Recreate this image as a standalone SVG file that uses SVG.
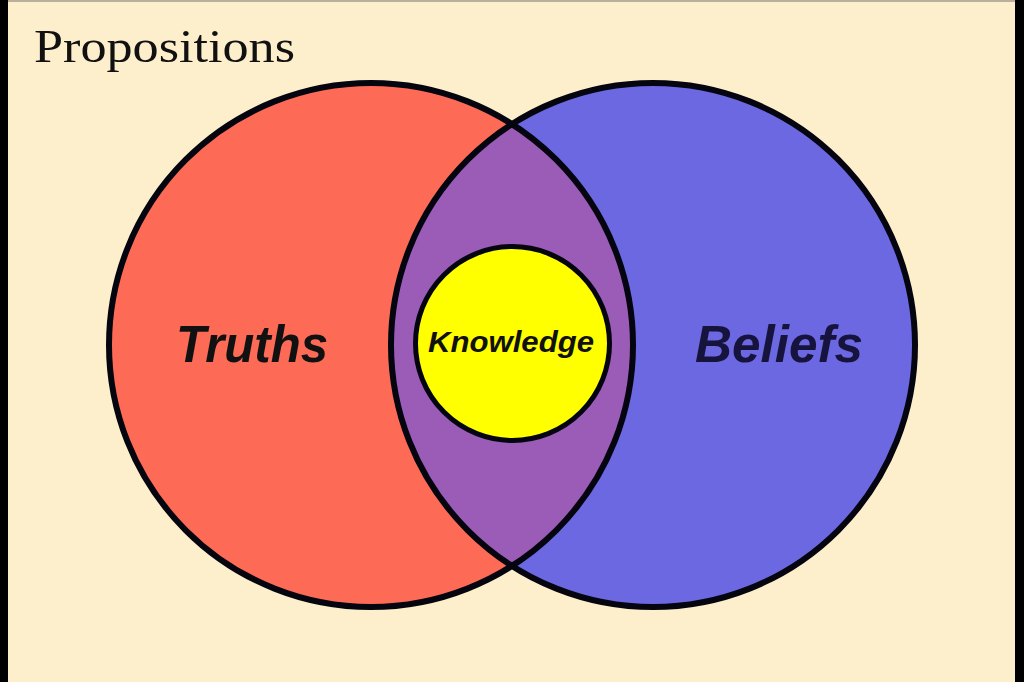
<svg xmlns="http://www.w3.org/2000/svg" width="1024" height="682" viewBox="0 0 1024 682">
  <style>
    .ring { stroke: #050510; stroke-width: 6; fill: none; }
    .label { font-family: "Liberation Sans", Arial, sans-serif; font-weight: bold; font-style: italic; }
  </style>
  <defs>
    <clipPath id="redClip"><circle cx="371" cy="345" r="262"/></clipPath>
  </defs>
  <rect x="0" y="0" width="1024" height="682" fill="#fdefcb"/>
  <rect x="0" y="0" width="1024" height="2" fill="#b8b09a"/>
  <rect x="0" y="0" width="8" height="682" fill="#000"/>
  <rect x="1015" y="0" width="9" height="682" fill="#000"/>

  <g id="title">
    <text x="34" y="62" font-family="Liberation Serif, 'Times New Roman', serif" font-size="46" fill="#111" textLength="261" lengthAdjust="spacingAndGlyphs">Propositions</text>
  </g>

  <g id="truths">
    <circle cx="371" cy="345" r="262" fill="#fd6b57"/>
  </g>
  <g id="beliefs">
    <circle cx="653" cy="345" r="262" fill="#6c68e2"/>
  </g>
  <g id="overlap">
    <circle cx="653" cy="345" r="262" fill="#9b5cb8" clip-path="url(#redClip)"/>
  </g>
  <g id="outlines">
    <circle class="ring" cx="371" cy="345" r="262"/>
    <circle class="ring" cx="653" cy="345" r="262"/>
  </g>
  <g id="truths-label">
    <text class="label" x="176" y="362" font-size="52" fill="#111" textLength="152" lengthAdjust="spacingAndGlyphs">Truths</text>
  </g>
  <g id="beliefs-label">
    <text class="label" x="695" y="362" font-size="52" fill="#16133c" textLength="168" lengthAdjust="spacingAndGlyphs">Beliefs</text>
  </g>
  <g id="knowledge">
    <circle cx="512.5" cy="343.5" r="97" fill="#ffff00" stroke="#050510" stroke-width="5"/>
    <text class="label" x="428" y="352" font-size="30" fill="#111" textLength="166" lengthAdjust="spacingAndGlyphs">Knowledge</text>
  </g>
</svg>
